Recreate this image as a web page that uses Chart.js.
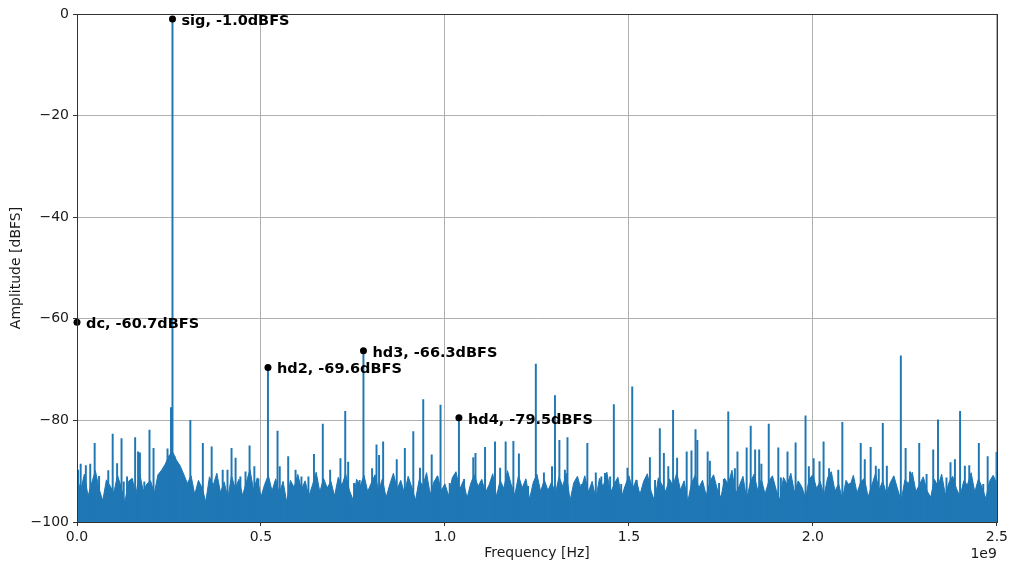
<!DOCTYPE html>
<html>
<head>
<meta charset="utf-8">
<script src="https://cdn.jsdelivr.net/npm/chart.js@4/dist/chart.umd.min.js"></script>
<style>
  html, body { margin: 0; padding: 0; background: #fff; }
  #wrap { width: 1011px; height: 568px; }
</style>
</head>
<body>
<div id="wrap"><canvas id="spectrum" width="1011" height="568"></canvas></div>
<script>
// FFT spectrum – frequencies in GHz (axis shows them as Hz x 1e9)

// noise floor, one value every 10 MHz from 0 to 2.5 GHz (dBFS)
const noiseStep = 0.01;
const noiseLevels = [
  -91.2,-93.8,-90.6,-94.9,-92.3,-89.9,-93.5,-95.8,-91.7,-92.9,
  -94.3,-90.8,-93.1,-96.2,-92.0,-91.4,-94.7,-90.3,-93.9,-92.5,
  -91.9,-94.4,-90.7,-89.8,-88.6,-86.9,-86.2,-87.8,-88.9,-90.6,
  -92.4,-90.9,-94.6,-91.8,-93.3,-96.0,-91.1,-92.8,-90.4,-94.2,
  -92.1,-95.3,-90.9,-93.4,-91.6,-94.8,-92.2,-89.7,-93.7,-91.3,
  -95.1,-92.6,-90.8,-93.9,-91.5,-94.5,-92.0,-96.1,-91.8,-93.2,
  -90.6,-93.6,-91.9,-95.0,-92.7,-90.2,-94.1,-91.4,-93.3,-92.0,
  -94.9,-91.2,-92.8,-90.5,-93.7,-95.6,-91.6,-92.9,-90.8,-94.0,
  -92.3,-90.7,-93.9,-91.5,-95.2,-92.6,-90.4,-93.5,-91.8,-94.4,
  -91.0,-93.2,-95.7,-91.7,-92.9,-90.3,-94.6,-92.1,-90.9,-93.8,
  -92.5,-94.9,-91.3,-90.1,-93.6,-91.9,-95.3,-92.4,-90.7,-93.0,
  -91.6,-94.2,-92.7,-90.5,-95.0,-91.8,-93.4,-89.9,-92.6,-94.7,
  -90.8,-93.3,-91.5,-95.5,-92.2,-90.6,-94.0,-91.7,-93.8,-92.1,
  -94.5,-91.1,-93.0,-90.4,-95.8,-92.3,-91.0,-93.6,-90.9,-94.1,
  -92.0,-95.4,-91.4,-93.1,-90.2,-94.3,-92.5,-91.2,-95.1,-92.8,
  -90.9,-93.5,-91.7,-94.6,-92.0,-90.5,-93.9,-95.9,-91.3,-92.7,
  -94.0,-91.5,-92.9,-90.3,-93.7,-91.9,-96.0,-92.4,-90.8,-93.3,
  -91.8,-94.8,-92.1,-90.7,-93.5,-95.2,-91.4,-92.6,-89.8,-94.4,
  -92.9,-91.0,-95.5,-92.2,-90.6,-93.8,-91.6,-94.5,-92.0,-90.9,
  -93.6,-95.7,-91.2,-92.7,-90.4,-94.2,-91.9,-93.1,-95.3,-91.5,
  -90.7,-93.4,-92.0,-94.9,-91.3,-90.1,-93.9,-92.5,-95.6,-91.8,
  -93.0,-90.8,-94.3,-92.1,-91.4,-95.1,-92.8,-90.5,-93.7,-91.9,
  -94.6,-92.3,-90.9,-93.5,-95.8,-91.7,-92.4,-90.2,-94.0,-92.6,
  -91.1,-93.8,-95.2,-91.6,-92.9,-90.6,-94.7,-92.2,-91.0,-93.4,
  -95.0,-91.9,-92.7,-90.3,-94.1,-91.5,-93.2,-95.4,-92.0,-90.8,
  -92.5
];

// spurs / tones sticking out of the floor
const spurFreqs = [
  0.003, 0.010, 0.024, 0.036, 0.048, 0.060, 0.085, 0.097, 0.109, 0.121,
  0.127, 0.136, 0.158, 0.166, 0.171, 0.183, 0.197, 0.208, 0.220, 0.246,
  0.252, 0.2555, 0.2595, 0.265, 0.273, 0.293, 0.308, 0.342, 0.366, 0.381,
  0.396, 0.409, 0.420, 0.431, 0.444, 0.458, 0.469, 0.482, 0.493, 0.519,
  0.525, 0.545, 0.551, 0.574, 0.594, 0.610, 0.629, 0.644, 0.668, 0.688,
  0.716, 0.729, 0.737, 0.753, 0.768, 0.7785, 0.802, 0.814, 0.821, 0.832,
  0.869, 0.891, 0.914, 0.932, 0.941, 0.964, 0.979, 0.988, 1.013, 1.034,
  1.038, 1.052, 1.077, 1.083, 1.109, 1.136, 1.150, 1.165, 1.186, 1.201,
  1.226, 1.247, 1.269, 1.291, 1.299, 1.311, 1.326, 1.333, 1.351, 1.371,
  1.387, 1.410, 1.425, 1.435, 1.449, 1.459, 1.479, 1.496, 1.509, 1.521,
  1.544, 1.557, 1.571, 1.584, 1.595, 1.607, 1.620, 1.631, 1.657, 1.670,
  1.681, 1.686, 1.714, 1.720, 1.731, 1.745, 1.758, 1.770, 1.788, 1.795,
  1.820, 1.831, 1.843, 1.854, 1.860, 1.880, 1.906, 1.913, 1.931, 1.953,
  1.980, 1.989, 2.002, 2.018, 2.029, 2.044, 2.069, 2.080, 2.101, 2.130,
  2.141, 2.157, 2.171, 2.179, 2.190, 2.201, 2.216, 2.239, 2.252, 2.264,
  2.289, 2.309, 2.327, 2.340, 2.363, 2.374, 2.386, 2.400, 2.413, 2.425,
  2.451, 2.463, 2.475, 2.499
];
const spurLevels = [
  -89.8, -88.6, -88.9, -88.6, -84.5, -91.0, -89.9, -82.7, -88.5, -83.6,
  -92.1, -91.1, -83.4, -86.2, -86.4, -92.1, -81.9, -85.5, -94.0, -85.6,
  -87.5, -77.5, -1.0, -87.1, -89.8, -93.0, -80.0, -84.5, -85.2, -92.4,
  -89.8, -89.8, -85.5, -87.4, -91.1, -90.1, -85.0, -89.1, -91.5, -69.6,
  -94.6, -82.1, -89.1, -87.1, -89.8, -91.1, -91.1, -86.7, -80.7, -89.8,
  -87.5, -78.2, -88.2, -92.4, -91.8, -66.3, -89.5, -84.8, -86.9, -84.2,
  -87.7, -85.5, -82.2, -89.4, -75.9, -86.8, -91.1, -77.0, -92.4, -92.1,
  -79.5, -91.6, -87.3, -86.5, -85.3, -84.2, -89.4, -84.2, -84.1, -86.6,
  -93.0, -68.9, -90.3, -89.1, -75.1, -83.9, -89.8, -83.4, -93.0, -92.6,
  -84.5, -90.3, -91.1, -90.4, -91.1, -76.9, -92.6, -89.4, -73.4, -91.8,
  -92.1, -87.3, -91.8, -81.6, -86.5, -89.1, -78.0, -87.4, -86.2, -86.0,
  -81.8, -83.9, -86.2, -88.0, -92.2, -92.4, -91.6, -78.3, -89.5, -86.2,
  -85.4, -81.1, -85.8, -85.8, -88.6, -80.7, -85.4, -91.3, -86.2, -84.4,
  -79.1, -89.1, -87.5, -88.1, -84.2, -89.5, -89.8, -80.4, -92.4, -84.5,
  -87.7, -85.3, -89.0, -89.6, -80.6, -89.0, -93.0, -67.3, -85.5, -90.1,
  -84.5, -90.6, -85.8, -79.9, -91.3, -88.3, -87.7, -78.2, -89.0, -88.9,
  -84.5, -92.6, -87.1, -86.3
];

// annotated bins
const markerNames = ["dc", "sig", "hd2", "hd3", "hd4"];
const markerFreqs = [0.0, 0.2595, 0.519, 0.7785, 1.038];
const markerLevels = [-60.7, -1.0, -69.6, -66.3, -79.5];

const xTicks = [0.0, 0.5, 1.0, 1.5, 2.0, 2.5];
const yTicks = [-100, -80, -60, -40, -20, 0];

const BLUE = "#1f77b4";
const TXT = "#1a1a1a";
const FONT = "'DejaVu Sans', sans-serif";

const noiseData = noiseLevels.map((v, i) => ({ x: i * noiseStep, y: v }));
const spurData = spurFreqs.map((f, i) => ({ x: f, y: [-100, spurLevels[i]] }));
const markerData = markerFreqs.map((f, i) => ({ x: f, y: markerLevels[i] }));

const framePlugin = {
  id: "frame",
  afterDraw(chart) {
    const { ctx, chartArea: a, scales } = chart;
    ctx.save();
    ctx.strokeStyle = "#333";
    ctx.lineWidth = 1;
    ctx.strokeRect(Math.round(a.left) + 0.5, Math.round(a.top) + 0.5,
      Math.round(a.right - a.left), Math.round(a.bottom - a.top));

    // annotation texts
    ctx.fillStyle = "#000";
    ctx.font = "bold 14.5px " + FONT;
    ctx.textBaseline = "middle";
    ctx.textAlign = "left";
    markerNames.forEach((n, i) => {
      const px = scales.x.getPixelForValue(markerFreqs[i]) + 9;
      const py = scales.y.getPixelForValue(markerLevels[i]) + 2;
      ctx.fillText(n + ", " + markerLevels[i].toFixed(1) + "dBFS", px, py);
    });

    // offset text of the x axis
    ctx.font = "14px " + FONT;
    ctx.fillStyle = TXT;
    ctx.textAlign = "right";
    ctx.fillText("1e9", a.right, 554);
    ctx.restore();
  }
};

new Chart(document.getElementById("spectrum").getContext("2d"), {
  type: "line",
  data: {
    datasets: [
      {
        type: "line",
        label: "markers",
        data: markerData,
        showLine: false,
        pointRadius: 3.5,
        pointBackgroundColor: "#000",
        pointBorderColor: "#000",
        pointBorderWidth: 0,
        clip: false,
        order: 0
      },
      {
        type: "bar",
        label: "spurs",
        data: spurData,
        backgroundColor: BLUE,
        borderWidth: 0,
        barThickness: 1.3,
        grouped: false,
        order: 1
      },
      {
        type: "line",
        label: "floor",
        data: noiseData,
        borderColor: BLUE,
        backgroundColor: BLUE,
        borderWidth: 1,
        pointRadius: 0,
        tension: 0,
        fill: "start",
        order: 2
      }
    ]
  },
  options: {
    responsive: false,
    animation: false,
    events: [],
    layout: { padding: { top: 14, right: 14, left: 0, bottom: 0 } },
    plugins: {
      legend: { display: false },
      tooltip: { enabled: false }
    },
    scales: {
      x: {
        type: "linear",
        min: 0,
        max: 2.5,
        offset: false,
        afterFit: s => { s.height = 46; },
        afterBuildTicks: s => { s.ticks = xTicks.map(v => ({ value: v })); },
        ticks: {
          callback: v => v.toFixed(1),
          color: TXT,
          font: { family: FONT, size: 14 },
          padding: 3,
          maxRotation: 0
        },
        grid: { color: "#b0b0b0", lineWidth: 1, tickLength: 4, tickColor: "#333", offset: false },
        border: { color: "#333" },
        title: {
          display: true,
          text: "Frequency [Hz]",
          color: TXT,
          font: { family: FONT, size: 14 },
          padding: { top: 0, bottom: 6 }
        }
      },
      y: {
        min: -100,
        max: 0,
        afterFit: s => { s.width = 77; },
        afterBuildTicks: s => { s.ticks = yTicks.map(v => ({ value: v })); },
        ticks: {
          callback: v => (v < 0 ? "\u2212" + (-v) : String(v)),
          color: TXT,
          font: { family: FONT, size: 14 },
          padding: 4
        },
        grid: { color: "#b0b0b0", lineWidth: 1, tickLength: 4, tickColor: "#333" },
        border: { color: "#333" },
        title: {
          display: true,
          text: "Amplitude [dBFS]",
          color: TXT,
          font: { family: FONT, size: 14 },
          padding: { top: 8, bottom: 0 }
        }
      }
    }
  },
  plugins: [framePlugin]
});
</script>
</body>
</html>
